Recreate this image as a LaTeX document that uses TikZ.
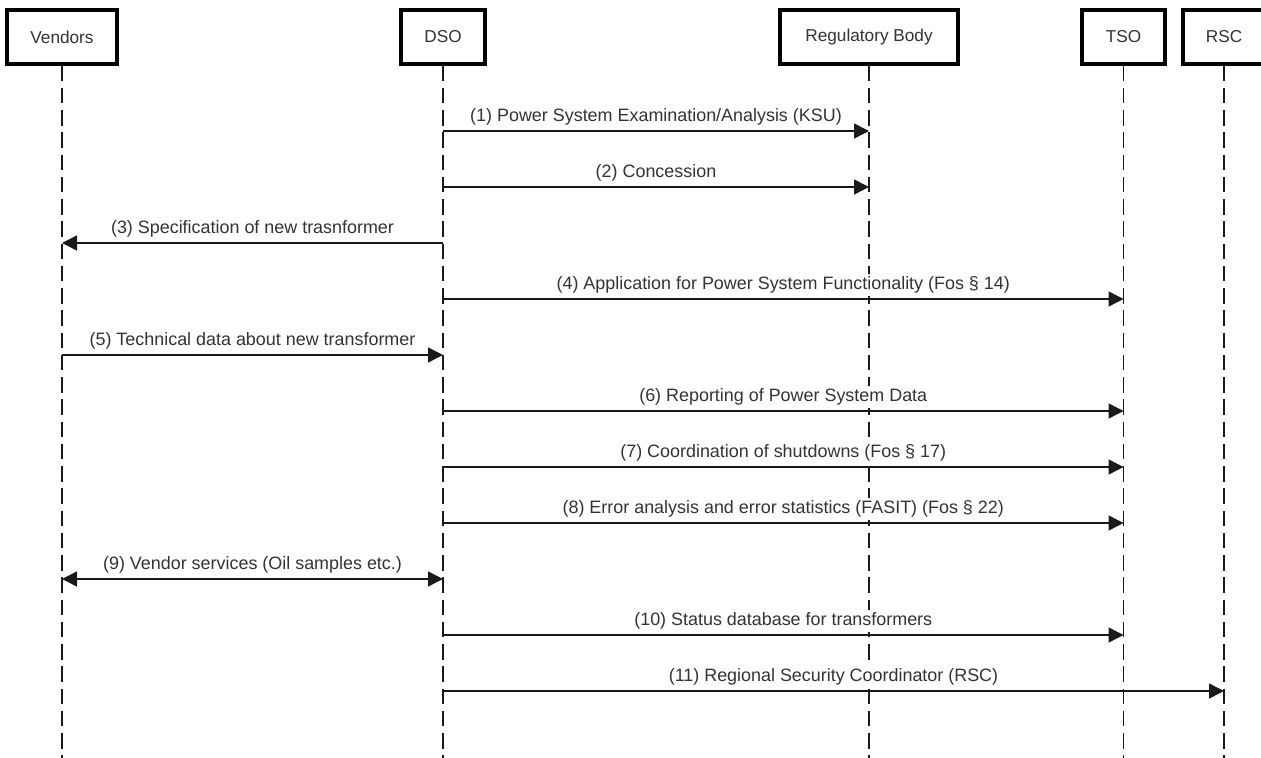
\documentclass[tikz,border=0pt]{standalone}
\usepackage{fontspec}
\setmainfont{Liberation Sans}
\definecolor{TextGray}{HTML}{333333}
\definecolor{LineDark}{HTML}{1A1A1A}
\usetikzlibrary{arrows.meta, positioning}
\tikzset{
  actor/.style={draw=black, line width=1.9pt, fill=white, align=center, minimum height=1.08cm, inner sep=2pt, font=\fontsize{9.8}{12}\selectfont, text=TextGray},
  msg/.style={-{Triangle[length=0.3cm, width=0.3cm]}, line width=0.8pt, draw=LineDark},
  msgboth/.style={{Triangle[length=0.3cm, width=0.3cm]}-{Triangle[length=0.3cm, width=0.3cm]}, line width=0.8pt, draw=LineDark},
  lbl/.style={midway, above=0.04cm, inner sep=1.5pt, fill=white, font=\fontsize{10.2}{12}\selectfont, text=TextGray}
}

\begin{document}
\begin{tikzpicture}[
  lifeline/.style={draw=LineDark, line width=0.85pt, dash pattern=on 0.31cm off 0.135cm}
]
\useasboundingbox (0,0) rectangle (25.22,-15.16);
\node[actor, minimum width=2.2cm] (vendors) at (1.24,-0.74) {Vendors};
\node[actor, minimum width=1.68cm] (dso) at (8.86,-0.74) {DSO};
\node[actor, minimum width=3.56cm] (reg) at (17.38,-0.74) {Regulatory Body};
\node[actor, minimum width=1.66cm] (tso) at (22.47,-0.74) {TSO};
\node[actor, minimum width=1.64cm] (rsc) at (24.48,-0.74) {RSC};

% lifelines
\coordinate (bottom) at (0,-15.16);
\draw[lifeline] (vendors.south) -- (vendors.south |- bottom);
\draw[lifeline] (dso.south) -- (dso.south |- bottom);
\draw[lifeline] (reg.south) -- (reg.south |- bottom);
\draw[lifeline] (tso.south) -- (tso.south |- bottom);
\draw[lifeline] (rsc.south) -- (rsc.south |- bottom);

% message rows
\coordinate (m1) at (0,-2.62);
\coordinate (m2) at (0,-3.74);
\coordinate (m3) at (0,-4.86);
\coordinate (m4) at (0,-5.98);
\coordinate (m5) at (0,-7.10);
\coordinate (m6) at (0,-8.22);
\coordinate (m7) at (0,-9.34);
\coordinate (m8) at (0,-10.46);
\coordinate (m9) at (0,-11.58);
\coordinate (m10) at (0,-12.70);
\coordinate (m11) at (0,-13.82);

\draw[msg] (dso |- m1) -- (reg |- m1) node[lbl] {(1) Power System Examination/Analysis (KSU)};
\draw[msg] (dso |- m2) -- (reg |- m2) node[lbl] {(2) Concession};
\draw[msg] (dso |- m3) -- (vendors |- m3) node[lbl] {(3) Specification of new trasnformer};
\draw[msg] (dso |- m4) -- (tso |- m4) node[lbl] {(4) Application for Power System Functionality (Fos § 14)};
\draw[msg] (vendors |- m5) -- (dso |- m5) node[lbl] {(5) Technical data about new transformer};
\draw[msg] (dso |- m6) -- (tso |- m6) node[lbl] {(6) Reporting of Power System Data};
\draw[msg] (dso |- m7) -- (tso |- m7) node[lbl] {(7) Coordination of shutdowns (Fos § 17)};
\draw[msg] (dso |- m8) -- (tso |- m8) node[lbl] {(8) Error analysis and error statistics (FASIT) (Fos § 22)};
\draw[msgboth] (vendors |- m9) -- (dso |- m9) node[lbl] {(9) Vendor services (Oil samples etc.)};
\draw[msg] (dso |- m10) -- (tso |- m10) node[lbl] {(10) Status database for transformers};
\draw[msg] (dso |- m11) -- (rsc |- m11) node[lbl] {(11) Regional Security Coordinator (RSC)};
\end{tikzpicture}
\end{document}
